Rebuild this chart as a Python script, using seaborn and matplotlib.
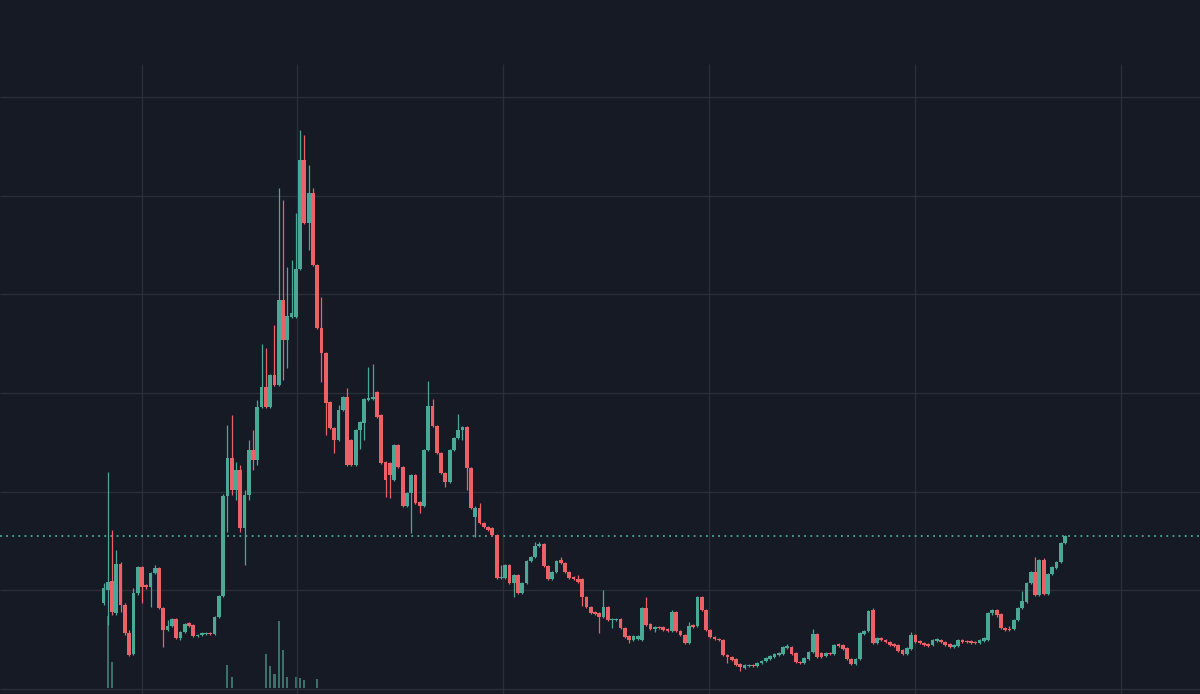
import numpy as np
import pandas as pd
import matplotlib
matplotlib.use("Agg")
import matplotlib.pyplot as plt
import seaborn as sns

# ---- data (price units, candles in time order) ----
opens = [86, 99, 108, 76, 125, 84, 56, 35, 96, 122,
         104, 102, 116, 121, 81, 59, 63, 70, 51, 57,
         66, 64, 53, 54, 55, 56, 55, 72, 93, 193,
         231, 199, 219, 161, 194, 239, 229, 282, 302, 282,
         314, 304, 389, 349, 372, 372, 420, 529, 466, 496,
         424, 361, 336, 287, 261, 249, 279, 292, 249, 224,
         259, 266, 289, 290, 297, 274, 227, 226, 209, 244,
         222, 183, 196, 214, 187, 183, 239, 283, 263, 236,
         216, 207, 239, 251, 259, 262, 221, 172, 181, 166,
         162, 161, 154, 111, 111, 124, 106, 114, 96, 106,
         128, 132, 143, 145, 123, 110, 117, 129, 126, 117,
         112, 110, 110, 92, 82, 77, 76, 72, 82, 69,
         69, 70, 61, 53, 49, 50, 49, 81, 65, 60,
         62, 62, 60, 58, 77, 58, 54, 46, 64, 63,
         92, 79, 59, 52, 50, 49, 34, 32, 30, 25,
         21, 23, 24, 23, 26, 28, 30, 32, 34, 35,
         41, 42, 36, 27, 26, 30, 37, 55, 36, 33,
         36, 35, 45, 44, 41, 30, 25, 30, 55, 58,
         79, 46, 51, 49, 47, 45, 44, 39, 35, 40,
         54, 48, 46, 45, 44, 48, 49, 47, 45, 42,
         43, 49, 48, 48, 47, 46, 48, 49, 76, 79,
         75, 61, 60, 60, 69, 81, 87, 106, 117, 94,
         129, 95, 115, 121, 127, 146]
closes = [101, 107, 77, 125, 84, 56, 34, 96, 122, 102,
          102, 116, 121, 81, 59, 63, 70, 51, 57, 65,
          63, 53, 54, 56, 56, 55, 72, 93, 193, 231,
          199, 219, 161, 194, 239, 229, 282, 302, 282, 314,
          304, 389, 349, 373, 376, 420, 529, 466, 496, 424,
          361, 336, 286, 261, 249, 279, 292, 224, 224, 259,
          267, 290, 291, 292, 272, 226, 209, 214, 244, 222,
          183, 196, 214, 186, 183, 239, 283, 263, 236, 216,
          207, 239, 251, 259, 262, 221, 181, 181, 166, 162,
          159, 154, 111, 112, 124, 106, 114, 96, 106, 128,
          132, 143, 145, 123, 110, 117, 128, 126, 117, 111,
          110, 107, 92, 82, 76, 75, 72, 82, 69, 70,
          70, 61, 52, 49, 53, 53, 81, 64, 60, 62,
          61, 59, 58, 77, 58, 54, 46, 63, 62, 92,
          79, 59, 52, 50, 49, 34, 32, 29, 24, 22,
          24, 24, 23, 26, 28, 31, 33, 35, 36, 42,
          43, 35, 27, 26, 31, 37, 55, 32, 32, 36,
          35, 44, 43, 40, 30, 25, 30, 56, 58, 78,
          46, 51, 49, 47, 44, 43, 38, 35, 41, 54,
          47, 46, 44, 43, 49, 50, 47, 44, 42, 44,
          49, 47, 47, 46, 46, 49, 51, 76, 79, 74,
          61, 59, 59, 69, 81, 88, 106, 117, 94, 129,
          95, 115, 122, 127, 146, 153]
highs = [106, 217, 159, 139, 127, 86, 59, 101, 123, 123,
         105, 117, 124, 122, 82, 69, 71, 71, 58, 66,
         67, 65, 55, 57, 57, 57, 73, 94, 195, 264,
         274, 227, 224, 199, 249, 259, 289, 345, 341, 315,
         364, 501, 489, 422, 429, 476, 559, 554, 524, 501,
         425, 392, 337, 288, 262, 284, 293, 301, 250, 260,
         268, 291, 322, 325, 298, 275, 228, 227, 245, 245,
         223, 197, 215, 215, 188, 240, 308, 290, 264, 237,
         217, 240, 252, 275, 263, 263, 222, 183, 186, 167,
         163, 162, 155, 124, 125, 125, 115, 115, 107, 129,
         133, 147, 147, 146, 124, 118, 129, 132, 127, 118,
         113, 114, 111, 93, 83, 78, 77, 99, 83, 71,
         71, 71, 62, 54, 54, 54, 82, 92, 66, 63,
         63, 63, 61, 79, 78, 59, 55, 67, 65, 93,
         93, 80, 60, 53, 51, 50, 35, 33, 31, 26,
         25, 25, 25, 27, 29, 32, 34, 36, 37, 43,
         45, 43, 37, 28, 32, 38, 60, 56, 37, 37,
         37, 45, 46, 45, 42, 31, 31, 57, 59, 79,
         81, 52, 52, 50, 48, 46, 45, 40, 42, 57,
         55, 49, 47, 46, 50, 51, 50, 48, 46, 45,
         50, 50, 49, 49, 48, 50, 52, 77, 80, 80,
         76, 62, 63, 70, 82, 98, 107, 118, 132, 130,
         131, 116, 123, 128, 147, 154]
lows = [84, 64, 74, 74, 77, 54, 33, 34, 94, 86,
        100, 82, 115, 80, 42, 58, 62, 50, 49, 56,
        62, 52, 52, 53, 54, 54, 54, 71, 92, 157,
        194, 189, 157, 124, 189, 219, 224, 281, 281, 281,
        303, 303, 309, 321, 371, 371, 419, 465, 439, 423,
        360, 307, 254, 260, 236, 248, 278, 223, 223, 223,
        240, 249, 288, 289, 271, 225, 192, 191, 208, 221,
        182, 182, 156, 185, 176, 182, 238, 262, 235, 215,
        202, 206, 238, 250, 249, 199, 180, 152, 165, 161,
        158, 153, 110, 110, 110, 105, 92, 95, 95, 105,
        127, 131, 142, 122, 109, 109, 116, 125, 116, 110,
        109, 106, 83, 81, 75, 74, 56, 71, 68, 61,
        68, 60, 51, 46, 48, 49, 48, 63, 59, 57,
        60, 58, 57, 57, 57, 53, 45, 45, 61, 62,
        78, 58, 51, 49, 48, 33, 26, 28, 23, 18,
        20, 22, 22, 22, 25, 27, 29, 31, 33, 34,
        40, 34, 26, 25, 25, 29, 36, 31, 31, 32,
        34, 34, 42, 39, 29, 24, 24, 29, 54, 57,
        45, 45, 48, 46, 43, 42, 37, 34, 34, 39,
        46, 45, 43, 42, 43, 47, 46, 43, 41, 41,
        42, 46, 46, 45, 45, 45, 47, 48, 74, 72,
        60, 58, 58, 59, 68, 80, 86, 105, 93, 93,
        94, 94, 114, 120, 126, 145]
last_price = 153

# volume (only the candles whose volume bars reach into view)
vol_candle = [1, 2, 29, 30, 38, 39, 40, 41, 42, 43, 45, 46, 47, 50]
vol_value = [72, 26, 23, 11, 34, 22, 14, 67, 38, 11, 11, 10, 8, 9]

# price grid levels and time-grid candle positions
grid_levels = [0, 99, 197, 296, 395, 493, 592]
time_grid = [9.0, 45.3, 93.5, 141.7, 189.9, 238.0]

# ---- style ----
BG = "#161a25"
GRID = "#2a2e39"
UP = "#4aa896"
DOWN = "#ec6068"
VOL = "#3e706b"

sns.set_theme(style="dark", rc={"axes.facecolor": BG, "figure.facecolor": BG,
                                "savefig.facecolor": BG})

df = pd.DataFrame({"open": opens, "high": highs, "low": lows, "close": closes})
df["idx"] = np.arange(len(df))
df["up"] = df["close"] >= df["open"]
df["color"] = np.where(df["up"], UP, DOWN)
df["body_lo"] = df[["open", "close"]].min(axis=1)
df["body_h"] = np.maximum((df["close"] - df["open"]).abs(), 1.5)

n = len(df)
dx = (1065 - 103.5) / (n - 1)
x_left = -103.5 / dx
x_right = x_left + 1200 / dx

fig = plt.figure(figsize=(12, 6.94), dpi=100)
ax = fig.add_axes([0, 0, 1, 1])
ax2 = ax.twinx()

# volume on the secondary axis (behind)
vol_df = pd.DataFrame({"candle": vol_candle, "volume": vol_value})
sns.barplot(data=vol_df, x="candle", y="volume", native_scale=True, width=0.5,
            color=VOL, saturation=1, errorbar=None, ax=ax2, linewidth=0)
ax2.set_ylim(-6, 688)

ax.set_zorder(ax2.get_zorder() + 1)
ax.patch.set_visible(False)
ax2.set_facecolor(BG)

# grid
ax.hlines(grid_levels, x_left, x_right, colors=GRID, linewidth=1.0, zorder=0)
ax.vlines(time_grid, -5, 625, colors=GRID, linewidth=1.0, zorder=0)

# candles
ax.vlines(df["idx"], df["low"], df["high"], colors=df["color"], linewidth=0.9, zorder=2)
ax.bar(df["idx"], df["body_h"], bottom=df["body_lo"], width=0.88,
       color=df["color"], linewidth=0, zorder=3)

# last price dotted line
ax.axhline(last_price, color=UP, linestyle=(0, (1, 2.4)), linewidth=1.3, zorder=1)

for a in (ax, ax2):
    a.set_xlim(x_left, x_right)
    a.set_xticks([])
    a.set_yticks([])
    a.set_xlabel("")
    a.set_ylabel("")
    for s in a.spines.values():
        s.set_visible(False)
ax.set_ylim(-5, 689)

fig.savefig("out.png", dpi=100, facecolor=BG)
